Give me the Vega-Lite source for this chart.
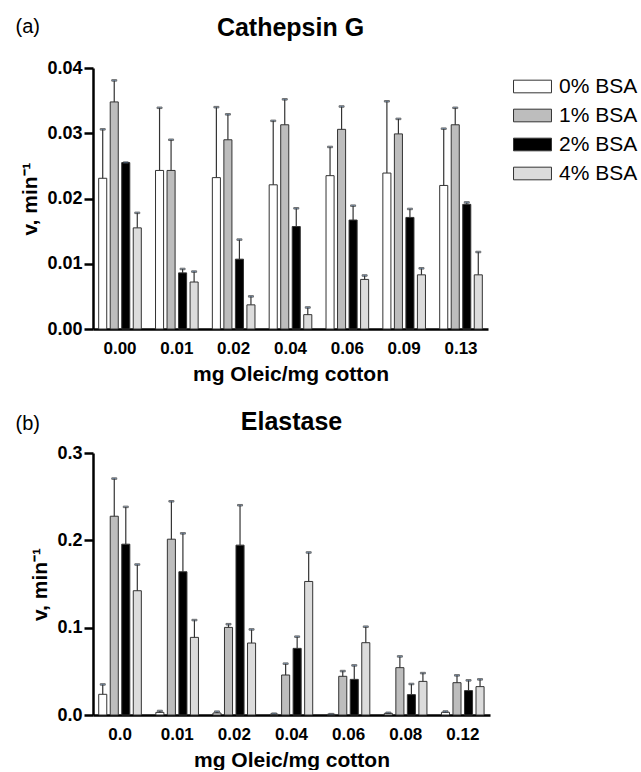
{
  "$schema": "https://vega.github.io/schema/vega-lite/v6.json",
  "padding": {"left": 15, "top": 16, "right": 0, "bottom": 0},
  "config": {
    "font": "Liberation Sans",
    "view": {"stroke": null},
    "axis": {"grid": false, "domainColor": "#000", "tickColor": "#000", "labelColor": "#000", "titleColor": "#000"},
    "legend": {"labelFontSize": 21, "labelColor": "#000", "labelFont": "Liberation Sans"}
  },
  "datasets": {
    "cg": [
      {"conc": "0.00", "bsa": "0% BSA", "v": 0.0231, "hi": 0.0306},
      {"conc": "0.00", "bsa": "1% BSA", "v": 0.0348, "hi": 0.0381},
      {"conc": "0.00", "bsa": "2% BSA", "v": 0.0255, "hi": 0.0255},
      {"conc": "0.00", "bsa": "4% BSA", "v": 0.0155, "hi": 0.0178},
      {"conc": "0.01", "bsa": "0% BSA", "v": 0.0243, "hi": 0.0339},
      {"conc": "0.01", "bsa": "1% BSA", "v": 0.0243, "hi": 0.0290},
      {"conc": "0.01", "bsa": "2% BSA", "v": 0.0086, "hi": 0.0092},
      {"conc": "0.01", "bsa": "4% BSA", "v": 0.0072, "hi": 0.0088},
      {"conc": "0.02", "bsa": "0% BSA", "v": 0.0232, "hi": 0.0340},
      {"conc": "0.02", "bsa": "1% BSA", "v": 0.0290, "hi": 0.0329},
      {"conc": "0.02", "bsa": "2% BSA", "v": 0.0107, "hi": 0.0137},
      {"conc": "0.02", "bsa": "4% BSA", "v": 0.0037, "hi": 0.0050},
      {"conc": "0.04", "bsa": "0% BSA", "v": 0.0221, "hi": 0.0319},
      {"conc": "0.04", "bsa": "1% BSA", "v": 0.0313, "hi": 0.0352},
      {"conc": "0.04", "bsa": "2% BSA", "v": 0.0157, "hi": 0.0185},
      {"conc": "0.04", "bsa": "4% BSA", "v": 0.0022, "hi": 0.0033},
      {"conc": "0.06", "bsa": "0% BSA", "v": 0.0235, "hi": 0.0279},
      {"conc": "0.06", "bsa": "1% BSA", "v": 0.0306, "hi": 0.0341},
      {"conc": "0.06", "bsa": "2% BSA", "v": 0.0167, "hi": 0.0189},
      {"conc": "0.06", "bsa": "4% BSA", "v": 0.0076, "hi": 0.0082},
      {"conc": "0.09", "bsa": "0% BSA", "v": 0.0239, "hi": 0.0349},
      {"conc": "0.09", "bsa": "1% BSA", "v": 0.0299, "hi": 0.0322},
      {"conc": "0.09", "bsa": "2% BSA", "v": 0.0171, "hi": 0.0184},
      {"conc": "0.09", "bsa": "4% BSA", "v": 0.0083, "hi": 0.0093},
      {"conc": "0.13", "bsa": "0% BSA", "v": 0.0220, "hi": 0.0307},
      {"conc": "0.13", "bsa": "1% BSA", "v": 0.0313, "hi": 0.0339},
      {"conc": "0.13", "bsa": "2% BSA", "v": 0.0191, "hi": 0.0194},
      {"conc": "0.13", "bsa": "4% BSA", "v": 0.0083, "hi": 0.0118}
    ],
    "el": [
      {"conc": "0.0", "bsa": "0% BSA", "v": 0.0237, "hi": 0.035},
      {"conc": "0.0", "bsa": "1% BSA", "v": 0.2276, "hi": 0.2707},
      {"conc": "0.0", "bsa": "2% BSA", "v": 0.1956, "hi": 0.2383},
      {"conc": "0.0", "bsa": "4% BSA", "v": 0.1423, "hi": 0.1723},
      {"conc": "0.01", "bsa": "0% BSA", "v": 0.003, "hi": 0.0046},
      {"conc": "0.01", "bsa": "1% BSA", "v": 0.2013, "hi": 0.2447},
      {"conc": "0.01", "bsa": "2% BSA", "v": 0.164, "hi": 0.208},
      {"conc": "0.01", "bsa": "4% BSA", "v": 0.0889, "hi": 0.1087},
      {"conc": "0.02", "bsa": "0% BSA", "v": 0.0023, "hi": 0.0038},
      {"conc": "0.02", "bsa": "1% BSA", "v": 0.1003, "hi": 0.104},
      {"conc": "0.02", "bsa": "2% BSA", "v": 0.1945, "hi": 0.2402},
      {"conc": "0.02", "bsa": "4% BSA", "v": 0.0824, "hi": 0.098},
      {"conc": "0.04", "bsa": "0% BSA", "v": 0.001, "hi": 0.0015},
      {"conc": "0.04", "bsa": "1% BSA", "v": 0.0458, "hi": 0.0588},
      {"conc": "0.04", "bsa": "2% BSA", "v": 0.0763, "hi": 0.0897},
      {"conc": "0.04", "bsa": "4% BSA", "v": 0.1529, "hi": 0.1861},
      {"conc": "0.06", "bsa": "0% BSA", "v": 0.0008, "hi": 0.001},
      {"conc": "0.06", "bsa": "1% BSA", "v": 0.0443, "hi": 0.0503},
      {"conc": "0.06", "bsa": "2% BSA", "v": 0.0408, "hi": 0.0568},
      {"conc": "0.06", "bsa": "4% BSA", "v": 0.0828, "hi": 0.1011},
      {"conc": "0.08", "bsa": "0% BSA", "v": 0.0019, "hi": 0.0025},
      {"conc": "0.08", "bsa": "1% BSA", "v": 0.0542, "hi": 0.0671},
      {"conc": "0.08", "bsa": "2% BSA", "v": 0.0233, "hi": 0.0355},
      {"conc": "0.08", "bsa": "4% BSA", "v": 0.0385, "hi": 0.048},
      {"conc": "0.12", "bsa": "0% BSA", "v": 0.0031, "hi": 0.004},
      {"conc": "0.12", "bsa": "1% BSA", "v": 0.037, "hi": 0.0454},
      {"conc": "0.12", "bsa": "2% BSA", "v": 0.0279, "hi": 0.0397},
      {"conc": "0.12", "bsa": "4% BSA", "v": 0.0325, "hi": 0.0408}
    ]
  },
  "resolve": {"scale": {"fill": "independent", "x": "independent", "y": "independent"}},
  "spacing": 26,
  "vconcat": [
    {
      "width": 395,
      "height": 261,
      "data": {"name": "cg"},
      "title": {"text": "Cathepsin G", "fontSize": 25, "fontWeight": "bold", "anchor": "middle", "frame": "group", "offset": -25, "color": "#000"},
      "resolve": {"axis": {"x": "independent"}},
      "layer": [
        {
          "mark": {"type": "bar", "stroke": "#333", "strokeWidth": 1},
          "encoding": {
            "x": {"field": "conc", "type": "nominal", "sort": null,
              "scale": {"paddingInner": 0.25, "paddingOuter": 0.1},
              "axis": {"orient": "bottom", "title": "mg Oleic/mg cotton", "labelAngle": 0, "ticks": false, "domainWidth": 2.5,
                "labelFontSize": 17, "labelFontWeight": "bold", "labelPadding": 11,
                "titleFontSize": 21, "titleFontWeight": "bold", "titlePadding": 7}},
            "xOffset": {"field": "bsa", "type": "nominal", "sort": null, "scale": {"paddingInner": 0.3, "paddingOuter": 0}},
            "y": {"field": "v", "type": "quantitative",
              "scale": {"domain": [0, 0.04], "nice": false},
              "axis": {"values": [0, 0.01, 0.02, 0.03, 0.04], "format": ".2f", "title": "v, min⁻¹",
                "domainWidth": 2.5, "tickWidth": 2.5, "tickSize": 9, "labelPadding": 2,
                "labelFontSize": 18, "labelFontWeight": "bold",
                "titleFontSize": 21, "titleFontWeight": "bold", "titlePadding": 6}},
            "fill": {"field": "bsa", "type": "nominal",
              "scale": {"domain": ["0% BSA", "1% BSA", "2% BSA", "4% BSA"], "range": ["#ffffff", "#bdbdbd", "#000000", "#dcdcdc"]},
              "legend": {"title": null, "orient": "none", "legendX": 426, "legendY": 5,
                "symbolType": "M-1.5,-0.5H1.5V0.5H-1.5Z", "symbolSize": 640, "symbolStrokeColor": "#333", "symbolStrokeWidth": 1,
                "labelFontSize": 21, "labelColor": "#000", "labelOffset": 13, "rowPadding": 5, "labelLimit": 300}}
          }
        },
        {
          "mark": {"type": "rule", "stroke": "#333", "strokeWidth": 1.2},
          "encoding": {
            "x": {"field": "conc", "type": "nominal", "sort": null,
              "axis": {"orient": "top", "domain": false, "ticks": false, "labels": false,
                "title": "(a)", "titleFontSize": 20, "titleFontWeight": "normal",
                "titleX": -78, "titleY": -42, "titleAlign": "left", "titleBaseline": "middle", "titleAngle": 0}},
            "xOffset": {"field": "bsa", "type": "nominal", "sort": null},
            "y": {"field": "v", "type": "quantitative"},
            "y2": {"field": "hi"}
          }
        },
        {
          "mark": {"type": "tick", "stroke": "#333", "thickness": 1.5, "size": 5, "orient": "horizontal"},
          "encoding": {
            "x": {"field": "conc", "type": "nominal", "sort": null, "axis": null},
            "xOffset": {"field": "bsa", "type": "nominal", "sort": null},
            "y": {"field": "hi", "type": "quantitative"}
          }
        }
      ]
    },
    {
      "width": 397,
      "height": 262,
      "data": {"name": "el"},
      "title": {"text": "Elastase", "fontSize": 25, "fontWeight": "bold", "anchor": "middle", "frame": "group", "offset": -22, "color": "#000"},
      "resolve": {"axis": {"x": "independent"}},
      "layer": [
        {
          "mark": {"type": "bar", "stroke": "#333", "strokeWidth": 1},
          "encoding": {
            "x": {"field": "conc", "type": "nominal", "sort": null,
              "scale": {"paddingInner": 0.25, "paddingOuter": 0.1},
              "axis": {"orient": "bottom", "title": "mg Oleic/mg cotton", "labelAngle": 0, "ticks": false, "domainWidth": 2.5,
                "labelFontSize": 17, "labelFontWeight": "bold", "labelPadding": 11,
                "titleFontSize": 21, "titleFontWeight": "bold", "titlePadding": 7}},
            "xOffset": {"field": "bsa", "type": "nominal", "sort": null, "scale": {"paddingInner": 0.3, "paddingOuter": 0}},
            "y": {"field": "v", "type": "quantitative",
              "scale": {"domain": [0, 0.3], "nice": false},
              "axis": {"values": [0, 0.1, 0.2, 0.3], "format": ".1f", "title": "v, min⁻¹",
                "domainWidth": 2.5, "tickWidth": 2.5, "tickSize": 9, "labelPadding": 2,
                "labelFontSize": 18, "labelFontWeight": "bold",
                "titleFontSize": 21, "titleFontWeight": "bold", "titlePadding": 6}},
            "fill": {"field": "bsa", "type": "nominal",
              "scale": {"domain": ["0% BSA", "1% BSA", "2% BSA", "4% BSA"], "range": ["#ffffff", "#bdbdbd", "#000000", "#dcdcdc"]},
              "legend": null}
          }
        },
        {
          "mark": {"type": "rule", "stroke": "#333", "strokeWidth": 1.2},
          "encoding": {
            "x": {"field": "conc", "type": "nominal", "sort": null,
              "axis": {"orient": "top", "domain": false, "ticks": false, "labels": false,
                "title": "(b)", "titleFontSize": 20, "titleFontWeight": "normal",
                "titleX": -78, "titleY": -30, "titleAlign": "left", "titleBaseline": "middle", "titleAngle": 0}},
            "xOffset": {"field": "bsa", "type": "nominal", "sort": null},
            "y": {"field": "v", "type": "quantitative"},
            "y2": {"field": "hi"}
          }
        },
        {
          "mark": {"type": "tick", "stroke": "#333", "thickness": 1.5, "size": 5, "orient": "horizontal"},
          "encoding": {
            "x": {"field": "conc", "type": "nominal", "sort": null, "axis": null},
            "xOffset": {"field": "bsa", "type": "nominal", "sort": null},
            "y": {"field": "hi", "type": "quantitative"}
          }
        }
      ]
    }
  ]
}
